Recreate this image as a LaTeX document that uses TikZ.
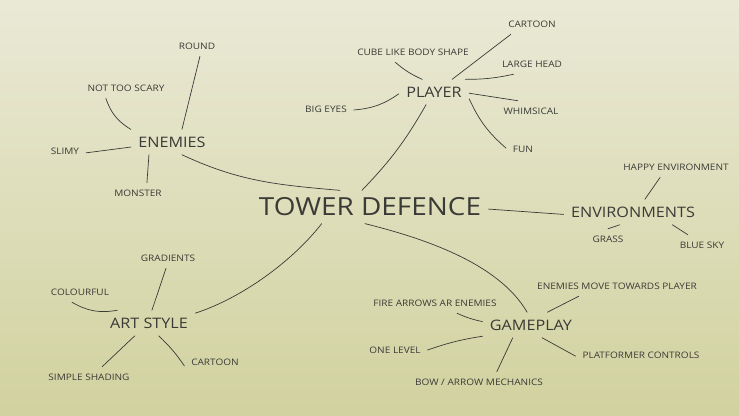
\documentclass[tikz,border=0pt]{standalone}
\usepackage{fontspec}
\setmainfont{Open Sans}[FakeStretch=1.12]
\definecolor{ink}{HTML}{3A3A36}
\definecolor{paperlight}{HTML}{EAE9D6}
\definecolor{papermid}{HTML}{E1E1C4}
\definecolor{paperolive}{HTML}{D1D29F}
\tikzset{
  leaf/.style={font=\fontsize{9}{11}\selectfont, text=ink, inner sep=1pt, outer sep=6pt},
  hub/.style={font=\fontsize{14.5}{17}\selectfont, text=ink, inner sep=2pt, outer sep=5.5pt},
  twig/.style={draw=ink, line width=0.7pt, line cap=round},
}

\begin{document}
\begin{tikzpicture}[x=1bp, y=1bp]
  % paper: light at the top, olive towards the bottom
  \shade[top color=paperlight, middle color=papermid, bottom color=paperolive]
    (0,0) rectangle (739,415);

  \node[font=\fontsize{25}{30}\selectfont, text=ink, inner sep=2pt, outer sep=5.5pt]
    (tower) at (370,208) {TOWER DEFENCE};

  % enemies branch
  \node[hub] (enemies) at (172,273) {ENEMIES};
  \node[leaf] (round) at (197,369) {ROUND};
  \node[leaf] (notscary) at (126,327) {NOT TOO SCARY};
  \node[leaf] (slimy) at (65,264) {SLIMY};
  \node[leaf] (monster) at (138,222) {MONSTER};

  % player branch
  \node[hub] (player) at (434,323) {PLAYER};
  \node[leaf] (cube) at (413,363) {CUBE LIKE BODY SHAPE};
  \node[leaf] (cartoonp) at (532,391) {CARTOON};
  \node[leaf] (largehead) at (532,351) {LARGE HEAD};
  \node[leaf] (whimsical) at (531,304) {WHIMSICAL};
  \node[leaf] (fun) at (523,266) {FUN};
  \node[leaf] (bigeyes) at (326,306) {BIG EYES};

  % environments branch
  \node[hub] (env) at (633,203) {ENVIRONMENTS};
  \node[leaf] (happy) at (676,248) {HAPPY ENVIRONMENT};
  \node[leaf] (grass) at (608,176) {GRASS};
  \node[leaf] (bluesky) at (702,170) {BLUE SKY};

  % art style branch
  \node[hub] (art) at (149,92) {ART STYLE};
  \node[leaf] (gradients) at (168,157) {GRADIENTS};
  \node[leaf] (colourful) at (80,123) {COLOURFUL};
  \node[leaf] (shading) at (89,38) {SIMPLE SHADING};
  \node[leaf] (cartoona) at (215,53) {CARTOON};

  % gameplay branch
  \node[hub] (game) at (531,90) {GAMEPLAY};
  \node[leaf] (enemove) at (617,129) {ENEMIES MOVE TOWARDS PLAYER};
  \node[leaf] (fire) at (435,112) {FIRE ARROWS AR ENEMIES};
  \node[leaf] (onelevel) at (395,65) {ONE LEVEL};
  \node[leaf] (bow) at (479,33) {BOW / ARROW MECHANICS};
  \node[leaf] (platformer) at (641,60) {PLATFORMER CONTROLS};

  % main strokes
  \draw[twig] (enemies.-52) to[out=-25, in=175] (tower.151);
  \draw[twig] (player.-122) to[bend left=7] (tower.116);
  \draw[twig] (tower.-1) -- (env.182);
  \draw[twig] (tower.-161) to[out=-128, in=18, looseness=0.8] (art.12);
  \draw[twig] (tower.-107) to[out=-14, in=120, looseness=0.8] (game.107);

  % leaf strokes
  \draw[twig] (enemies.52) -- (round.-74);
  \draw[twig] (enemies.163) to[bend left=20] (notscary.-153);
  \draw[twig] (enemies.187) -- (slimy.-5);
  \draw[twig] (enemies.-151) -- (monster.49);

  \draw[twig] (player.133) to[bend left=8] (cube.-150);
  \draw[twig] (player.35) -- (cartoonp.-154);
  \draw[twig] (player.22) to[bend right=6] (largehead.-151);
  \draw[twig] (player.-2) -- (whimsical.142);
  \draw[twig] (player.-11) to[bend right=12] (fun.177);
  \draw[twig] (player.-177) to[bend left=15] (bigeyes.-2);

  \draw[twig] (env.47) -- (happy.-147);
  \draw[twig] (env.-136) -- (grass.90);
  \draw[twig] (env.-18) -- (bluesky.144);

  \draw[twig] (art.77) -- (gradients.-101);
  \draw[twig] (art.158) to[bend left=20] (colourful.-128);
  \draw[twig] (art.-138) -- (shading.38);
  \draw[twig] (art.-53) to[bend left=6] (cartoona.187);

  \draw[twig] (game.38) -- (enemove.-165);
  \draw[twig] (game.176) to[bend left=6] (fire.-25);
  \draw[twig] (game.-167) to[bend right=5] (onelevel.0);
  \draw[twig] (game.-145) -- (bow.30);
  \draw[twig] (game.-49) -- (platformer.181);
\end{tikzpicture}
\end{document}
